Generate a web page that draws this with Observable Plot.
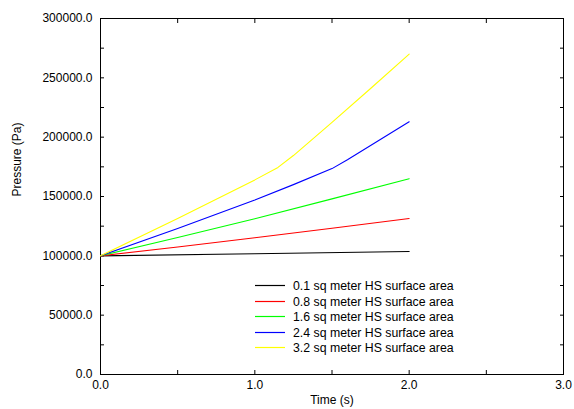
<!DOCTYPE html>
<html>
<head>
<meta charset="utf-8">
<script src="https://cdn.jsdelivr.net/npm/d3@7"></script>
<script src="https://cdn.jsdelivr.net/npm/@observablehq/plot@0.6"></script>
<style>
  body { margin: 0; background: #fff; }
  #wrap { position: relative; width: 574px; height: 409px; font-family: 'Liberation Sans', Arial, sans-serif; }
  #legend { position: absolute; left: 250px; top: 275px; }
</style>
</head>
<body>
<div id="wrap"><svg id="legend" width="220" height="82"></svg></div>
<script>
// ---- data ----
const seriesNames = [
  "0.1 sq meter HS surface area",
  "0.8 sq meter HS surface area",
  "1.6 sq meter HS surface area",
  "2.4 sq meter HS surface area",
  "3.2 sq meter HS surface area"
];
const seriesColors = ["#000000", "#ff0000", "#00ff00", "#0000ff", "#ffff00"];

const time01 = [0, 1.0, 2.0];
const pres01 = [100000, 101800, 103700];

const time08 = [0, 0.5, 1.0, 1.5, 2.0];
const pres08 = [100000, 107500, 115200, 123300, 131500];

const time16 = [0, 0.5, 1.0, 1.5, 2.0];
const pres16 = [100000, 115500, 131200, 148000, 165000];

const time24 = [0, 0.5, 1.0, 1.25, 1.5, 1.6, 1.8, 2.0];
const pres24 = [100000, 123000, 147000, 160000, 173500, 181000, 197000, 213000];

const time32 = [0, 0.5, 1.0, 1.15, 1.25, 1.5, 1.75, 2.0];
const pres32 = [100000, 131500, 164000, 174500, 184500, 212500, 241000, 270000];

const xMinorTicks = [0, 0.5, 1.0, 1.5, 2.0, 2.5, 3.0];
const xLabelTicks = [0, 1.0, 2.0, 3.0];
const yMinorTicks = [0, 25000, 50000, 75000, 100000, 125000, 150000, 175000, 200000, 225000, 250000, 275000, 300000];
const yLabelTicks = [0, 50000, 100000, 150000, 200000, 250000, 300000];

const xTitle = "Time (s)";
const yTitle = "Pressure (Pa)";

// ---- build table ----
const allTimes = [time01, time08, time16, time24, time32];
const allPres = [pres01, pres08, pres16, pres24, pres32];
const rows = [];
seriesNames.forEach((name, i) => {
  allTimes[i].forEach((t, j) => rows.push({name, t, p: allPres[i][j]}));
});

const fmt = d => d.toFixed(1);
const blank = () => "";

const chart = Plot.plot({
  width: 574,
  height: 409,
  marginLeft: 100,
  marginRight: 11,
  marginTop: 18,
  marginBottom: 35,
  style: {fontFamily: "'Liberation Sans', Arial, sans-serif", fontSize: "12px", color: "#000", background: "#fff"},
  x: {domain: [0, 3]},
  y: {domain: [0, 300000]},
  color: {domain: seriesNames, range: seriesColors},
  marks: [
    Plot.frame({stroke: "#000"}),
    Plot.axisY(yMinorTicks, {tickSize: -4, tickFormat: blank, label: null}),
    Plot.axisY(yMinorTicks, {anchor: "right", tickSize: -4, tickFormat: blank, label: null}),
    Plot.axisY(yLabelTicks, {tickSize: 0, tickPadding: 8, tickFormat: fmt, label: null}),
    Plot.axisX(xMinorTicks, {tickSize: -4, tickFormat: blank, label: null}),
    Plot.axisX(xMinorTicks, {anchor: "top", tickSize: -4, tickFormat: blank, label: null}),
    Plot.axisX(xLabelTicks, {tickSize: 0, tickPadding: 6, tickFormat: fmt, label: null}),
    Plot.line(rows, {x: "t", y: "p", z: "name", stroke: "name", strokeWidth: 1.1}),
    Plot.text([xTitle], {frameAnchor: "bottom", dy: 29, fontSize: 12, fill: "#000"}),
    Plot.text([yTitle], {frameAnchor: "left", dx: -83, rotate: -90, fontSize: 12, fill: "#000"})
  ]
});
const wrap = document.getElementById("wrap");
wrap.insertBefore(chart, wrap.firstChild);

// legend (svg, positioned over the plot area)
const lg = d3.select("#legend");
const rowY = i => Math.round(10 + i * 15.6);
seriesNames.forEach((name, i) => {
  const y = rowY(i);
  lg.append("line")
    .attr("x1", 5).attr("x2", 35)
    .attr("y1", y + 0.5).attr("y2", y + 0.5)
    .attr("stroke", seriesColors[i]).attr("stroke-width", 1.2);
  lg.append("text")
    .attr("x", 43).attr("y", y + 0.5)
    .attr("dy", "0.35em")
    .attr("font-family", "'Liberation Sans', Arial, sans-serif")
    .attr("font-size", 12.3)
    .attr("fill", "#000")
    .text(name);
});
</script>
</body>
</html>
